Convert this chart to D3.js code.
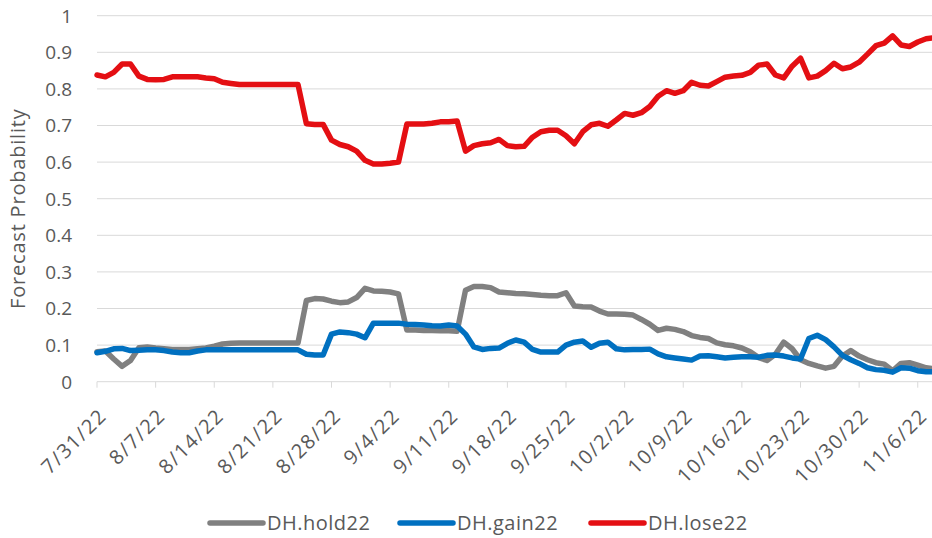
<!DOCTYPE html>
<html>
<head>
<meta charset="utf-8">
<script src="https://cdn.jsdelivr.net/npm/d3@7"></script>
<style>
  html, body { margin: 0; padding: 0; background: #ffffff; }
  svg { display: block; }
  text { font-family: "Open Sans", "Liberation Sans", sans-serif; fill: #595959; }
</style>
</head>
<body>
<svg id="chart" width="932" height="538"></svg>
<script>
// ---- data (daily, 7/31/22 .. 11/8/22) ----
const startDay = "2022-07-31";
const endDay = "2022-11-08";
const tickLabels = ["7/31/22","8/7/22","8/14/22","8/21/22","8/28/22","9/4/22","9/11/22","9/18/22","9/25/22","10/2/22","10/9/22","10/16/22","10/23/22","10/30/22","11/6/22"];
const yTicks = [0,0.1,0.2,0.3,0.4,0.5,0.6,0.7,0.8,0.9,1];
const seriesNames = ["DH.hold22","DH.gain22","DH.lose22"];
const seriesColors = ["#808080","#0070c0","#e40f13"];

const holdValues = [
  0.082,0.084,0.062,0.042,0.058,0.093,0.095,0.092,0.090,0.088,
  0.088,0.088,0.090,0.092,0.097,0.103,0.105,0.106,0.106,0.106,
  0.106,0.106,0.106,0.106,0.106,0.222,0.227,0.226,0.220,0.216,
  0.218,0.230,0.255,0.248,0.247,0.245,0.240,0.141,0.141,0.140,
  0.140,0.139,0.139,0.138,0.250,0.260,0.260,0.257,0.245,0.243,
  0.241,0.240,0.238,0.236,0.235,0.235,0.243,0.207,0.205,0.204,
  0.193,0.185,0.185,0.184,0.182,0.170,0.157,0.140,0.146,0.143,
  0.137,0.126,0.121,0.118,0.106,0.101,0.098,0.092,0.082,0.066,
  0.058,0.075,0.108,0.090,0.060,0.050,0.043,0.037,0.042,0.070,
  0.085,0.070,0.060,0.052,0.048,0.030,0.050,0.052,0.045,0.038,
  0.035
];
const gainValues = [
  0.079,0.083,0.090,0.091,0.085,0.086,0.087,0.087,0.085,0.081,
  0.079,0.079,0.084,0.087,0.087,0.087,0.087,0.087,0.087,0.087,
  0.087,0.087,0.087,0.087,0.087,0.075,0.073,0.073,0.130,0.136,
  0.134,0.130,0.120,0.160,0.160,0.160,0.160,0.157,0.156,0.155,
  0.153,0.152,0.155,0.152,0.130,0.095,0.088,0.091,0.092,0.105,
  0.114,0.108,0.088,0.081,0.081,0.081,0.100,0.108,0.111,0.094,
  0.105,0.108,0.090,0.087,0.088,0.088,0.089,0.076,0.068,0.065,
  0.062,0.059,0.070,0.071,0.068,0.065,0.067,0.068,0.068,0.067,
  0.072,0.073,0.070,0.065,0.062,0.118,0.127,0.115,0.095,0.072,
  0.060,0.050,0.038,0.033,0.031,0.026,0.038,0.037,0.030,0.027,
  0.027
];
const loseValues = [
  0.838,0.833,0.845,0.868,0.868,0.835,0.826,0.825,0.826,0.833,
  0.833,0.833,0.833,0.830,0.828,0.818,0.815,0.812,0.812,0.812,
  0.812,0.812,0.812,0.812,0.812,0.705,0.703,0.703,0.660,0.648,
  0.642,0.630,0.605,0.595,0.595,0.597,0.600,0.704,0.704,0.704,
  0.706,0.710,0.710,0.712,0.630,0.645,0.650,0.653,0.662,0.645,
  0.642,0.643,0.668,0.683,0.687,0.687,0.672,0.650,0.683,0.702,
  0.706,0.698,0.715,0.733,0.728,0.735,0.752,0.780,0.795,0.788,
  0.795,0.818,0.810,0.808,0.820,0.832,0.835,0.837,0.845,0.865,
  0.868,0.838,0.830,0.862,0.884,0.830,0.835,0.850,0.870,0.855,
  0.860,0.873,0.895,0.918,0.925,0.945,0.920,0.916,0.928,0.937,
  0.940
];

// ---- layout ----
const svg = d3.select("#chart");
const parse = d3.timeParse("%Y-%m-%d");
const dates = d3.timeDay.range(parse(startDay), d3.timeDay.offset(parse(endDay), 1));

const plotLeft = 97, plotRight = 934.5, plotTop = 15.7, plotBottom = 381.7;
const x = d3.scaleTime().domain([parse(startDay), parse(endDay)]).range([plotLeft, plotRight]);
const y = d3.scaleLinear().domain([0, 1]).range([plotBottom, plotTop]);

// gridlines
svg.append("g").selectAll("line").data(yTicks).join("line")
  .attr("x1", plotLeft).attr("x2", 932)
  .attr("y1", d => y(d)).attr("y2", d => y(d))
  .attr("stroke", "#d9d9d9").attr("stroke-width", 1);

// y labels
svg.append("g").selectAll("text").data(yTicks).join("text")
  .attr("x", 72).attr("y", d => y(d))
  .attr("dy", "0.36em").attr("text-anchor", "end")
  .attr("font-size", 19)
  .text(d => d3.format("")(d));

// y title
svg.append("text")
  .attr("transform", `translate(25,${(plotTop + plotBottom) / 2 + 10}) rotate(-90)`)
  .attr("text-anchor", "middle").attr("font-size", 20)
  .attr("letter-spacing", 0.8)
  .text("Forecast Probability");

// x ticks
const tickDates = tickLabels.map(d3.timeParse("%m/%d/%y"));
const xt = svg.append("g");
xt.selectAll("line").data(tickDates).join("line")
  .attr("x1", d => x(d)).attr("x2", d => x(d))
  .attr("y1", plotBottom).attr("y2", plotBottom + 6)
  .attr("stroke", "#d9d9d9");
xt.selectAll("text").data(tickDates).join("text")
  .attr("transform", d => `translate(${x(d) + 11},417) rotate(-45)`)
  .attr("text-anchor", "end").attr("font-size", 20)
  .attr("letter-spacing", 1.5)
  .text((d, i) => tickLabels[i]);

// lines
const allSeries = [holdValues, gainValues, loseValues];
const line = d3.line().x((d, i) => x(dates[i])).y(d => y(d));
svg.append("g").selectAll("path").data(allSeries).join("path")
  .attr("d", d => line(d))
  .attr("fill", "none")
  .attr("stroke", (d, i) => seriesColors[i])
  .attr("stroke-width", 5.5)
  .attr("stroke-linejoin", "round")
  .attr("stroke-linecap", "round");

// legend
const legendX = [210, 400, 591];
const lg = svg.append("g").selectAll("g").data(seriesNames).join("g")
  .attr("transform", (d, i) => `translate(${legendX[i]},523)`);
lg.append("line").attr("x1", 0).attr("x2", 53).attr("y1", 0).attr("y2", 0)
  .attr("stroke", (d, i) => seriesColors[i]).attr("stroke-width", 5.5).attr("stroke-linecap", "round");
lg.append("text").attr("x", 57).attr("y", 0).attr("dy", "0.36em")
  .attr("font-size", 20).attr("letter-spacing", 0.5).text(d => d);
</script>
</body>
</html>
